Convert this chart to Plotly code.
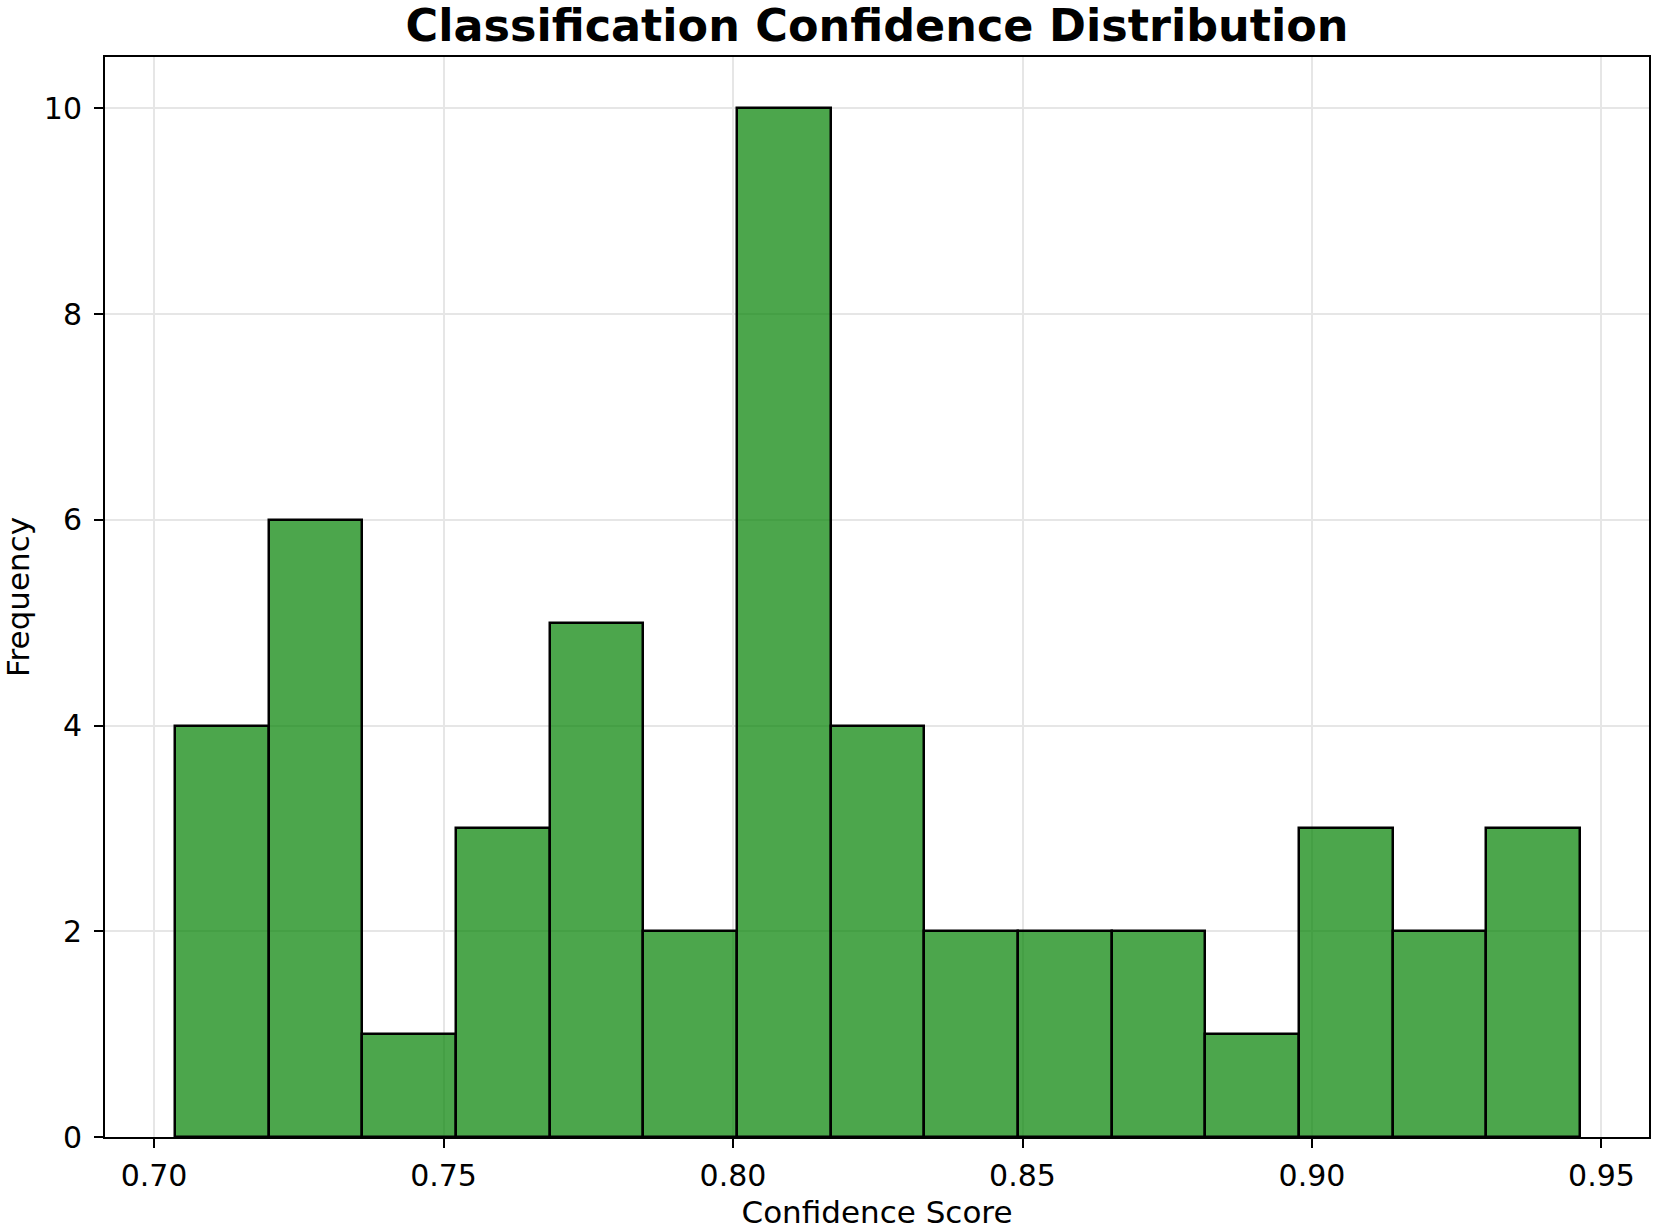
import numpy as np
import plotly.graph_objects as go

# Histogram data
counts = [4, 6, 1, 3, 5, 2, 10, 4, 2, 2, 2, 1, 3, 2, 3]
bin_start = 0.7036
bin_end = 0.9463
x_ticks = [0.70, 0.75, 0.80, 0.85, 0.90, 0.95]
x_tick_labels = ["0.70", "0.75", "0.80", "0.85", "0.90", "0.95"]
y_ticks = [0, 2, 4, 6, 8, 10]

n_bins = len(counts)
edges = np.linspace(bin_start, bin_end, n_bins + 1)
centers = (edges[:-1] + edges[1:]) / 2
width = edges[1] - edges[0]

FONT = "DejaVu Sans"

fig = go.Figure()
fig.add_trace(go.Bar(
    x=centers,
    y=counts,
    width=[width] * n_bins,
    marker=dict(color="rgba(0,128,0,0.7)", line=dict(color="black", width=2.5)),
    hoverinfo="x+y",
))

fig.update_layout(
    width=1654,
    height=1230,
    paper_bgcolor="white",
    plot_bgcolor="white",
    margin=dict(l=105, r=5, t=57, b=93),
    showlegend=False,
    bargap=0,
    title=dict(
        text="<b>Classification Confidence Distribution</b>",
        font=dict(family=FONT, size=44.5, color="black"),
        x=(105 + 1649) / 2 / 1654,
        xanchor="center",
        xref="container",
        yref="container",
        y=1 - 25.5 / 1230,
        yanchor="middle",
    ),
    font=dict(family=FONT, color="black"),
)

fig.update_xaxes(
    automargin=False,
    range=[0.69153, 0.95821],
    tickvals=x_ticks,
    ticktext=x_tick_labels,
    ticks="outside",
    ticklen=9,
    tickwidth=2,
    tickcolor="black",
    ticklabelstandoff=2,
    tickfont=dict(family=FONT, size=30, color="black"),
    showline=True,
    linecolor="black",
    linewidth=2,
    mirror=True,
    showgrid=True,
    gridcolor="#e6e6e6",
    gridwidth=2,
    zeroline=False,
    title=dict(text="Confidence Score", font=dict(family=FONT, size=31, color="black"), standoff=11),
)

fig.update_yaxes(
    automargin=False,
    range=[0, 10.5],
    tickvals=y_ticks,
    ticks="outside",
    ticklen=9,
    tickwidth=2,
    tickcolor="black",
    ticklabelstandoff=6,
    tickfont=dict(family=FONT, size=30, color="black"),
    showline=True,
    linecolor="black",
    linewidth=2,
    mirror=True,
    showgrid=True,
    gridcolor="#e6e6e6",
    gridwidth=2,
    zeroline=False,
    title=dict(text="Frequency", font=dict(family=FONT, size=31, color="black"), standoff=16),
)

fig.write_html(
    "out.html",
    config={"displayModeBar": False},
    post_script="document.body.style.margin='0';document.body.style.overflow='hidden';",
)
